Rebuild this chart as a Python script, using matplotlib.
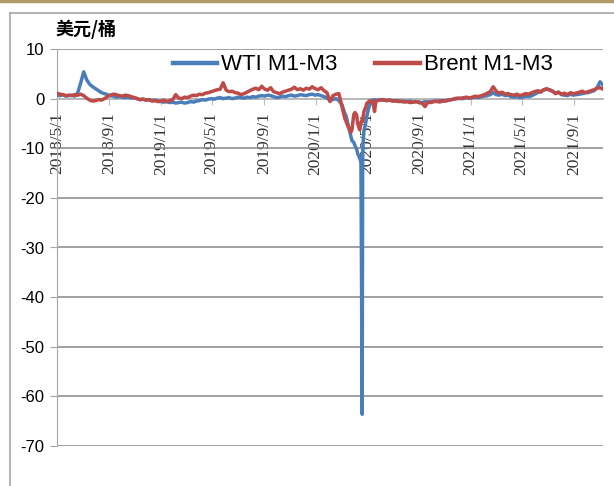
import pandas as pd
import matplotlib
matplotlib.use('Agg')
import matplotlib.pyplot as plt
from matplotlib.lines import Line2D

plt.rcParams['font.family'] = ['Liberation Sans', 'Noto Sans CJK SC']
plt.rcParams['axes.unicode_minus'] = False

# weekly M1-M3 spreads (USD/bbl), 2018-05-01 .. 2020-02-25
wti_pre = [0.7, 0.6, 0.8, 0.5, 0.6, 0.7, 0.5, 1.2, 3.2, 5.4,
           3.8, 2.9, 2.4, 2.0, 1.6, 1.2, 1.0, 0.8, 0.6, 0.5,
           0.3, 0.4, 0.3, 0.2, 0.3, 0.1, 0.2, 0.0, -0.2, -0.1,
           -0.3, -0.2, -0.4, -0.3, -0.5, -0.6, -0.7, -0.6, -0.8, -0.7,
           -0.9, -0.8, -0.7, -0.9, -0.8, -0.6, -0.7, -0.5, -0.4, -0.2,
           -0.3, -0.1, 0.0, -0.1, 0.1, 0.2, 0.0, 0.1, 0.2, 0.0,
           0.1, 0.3, 0.2, 0.1, 0.3, 0.2, 0.4, 0.3, 0.5, 0.6,
           0.5, 0.7, 0.6, 0.4, 0.2, 0.3, 0.5, 0.4, 0.6, 0.7,
           0.5, 0.6, 0.8, 0.7, 0.6, 0.8, 0.9, 0.7, 0.8, 0.6,
           0.4, 0.1, -0.3, -0.2, 0.0, -0.4]
brent_pre = [1.1, 0.9, 0.8, 0.6, 0.7, 0.6, 0.8, 0.7, 0.9, 0.6,
             0.1, -0.3, -0.5, -0.4, -0.2, -0.3, 0.0, 0.4, 0.7, 0.9,
             0.8, 0.6, 0.5, 0.7, 0.6, 0.4, 0.2, 0.0, -0.2, -0.1,
             -0.3, -0.2, -0.5, -0.4, -0.6, -0.5, -0.3, -0.6, -0.4, -0.2,
             0.8, 0.1, 0.0, 0.3, 0.2, 0.5, 0.7, 0.6, 0.9, 0.8,
             1.1, 1.2, 1.4, 1.6, 1.8, 1.9, 3.2, 1.7, 1.4, 1.5,
             1.2, 1.1, 0.8, 1.0, 1.3, 1.6, 1.9, 2.1, 1.8, 2.5,
             1.9, 1.7, 2.2, 1.4, 1.2, 1.0, 1.3, 1.5, 1.7, 1.9,
             2.3, 1.8, 2.0, 1.7, 2.1, 1.9, 2.4, 2.0, 1.8, 2.2,
             1.6, 1.2, -0.6, 0.6, 0.9, 1.0]

# March - May 2020
crash_days = ['2020-03-03', '2020-03-06', '2020-03-10', '2020-03-13', '2020-03-17',
              '2020-03-20', '2020-03-24', '2020-03-27', '2020-03-31', '2020-04-03',
              '2020-04-07', '2020-04-09', '2020-04-14', '2020-04-16', '2020-04-17',
              '2020-04-20', '2020-04-21', '2020-04-22', '2020-04-24', '2020-04-28',
              '2020-05-01', '2020-05-05', '2020-05-08', '2020-05-12', '2020-05-15',
              '2020-05-19', '2020-05-22', '2020-05-26']
wti_crash = [-1.2, -2.0, -3.0, -3.5, -5.0, -6.0, -7.5, -8.5, -8.8, -9.5,
             -10.2, -11.0, -12.0, -12.5, -13.0, -63.6, -12.5, -9.0, -6.5, -5.0,
             -3.5, -2.0, -1.2, -0.6, -0.3, -0.2, -0.4, -0.3]
brent_crash = [-1.5, -2.5, -4.0, -4.6, -5.5, -6.0, -6.8, -6.2, -3.2, -2.8,
               -3.3, -5.0, -6.3, -5.5, -4.8, -4.3, -4.6, -3.8, -2.6, -1.8,
               -0.9, -0.7, -0.4, -0.5, -0.6, -2.6, -0.6, -0.4]

# weekly, 2020-06-02 .. 2021-11-09
wti_post = [-0.2, -0.3, -0.4, -0.3, -0.4, -0.5, -0.4, -0.6, -0.5,
            -0.6, -0.5, -0.7, -0.6, -0.7, -0.8, -0.6, -0.7, -0.6,
            -0.5, -0.6, -0.4, -0.5, -0.4, -0.3, -0.2, -0.1,
            0.0, 0.1, 0.0, 0.2, 0.1, 0.2, 0.3, 0.2, 0.4,
            0.5, 0.6, 0.8, 1.2, 0.8, 0.7, 0.9, 0.6, 0.7,
            0.4, 0.3, 0.4, 0.2, 0.3, 0.5, 0.4, 0.6,
            0.9, 1.2, 1.5, 1.7, 1.9, 1.8, 1.5, 1.1, 1.3,
            0.8, 0.7, 0.6, 0.9, 0.7, 0.8, 0.9, 1.0, 1.2,
            1.2, 1.4, 1.6, 2.2, 3.4, 2.7]
brent_post = [-0.3, -0.2, -0.4, -0.3, -0.5, -0.4, -0.6, -0.5, -0.7,
              -0.6, -0.8, -0.7, -0.6, -0.8, -0.9, -1.6, -0.7, -0.8,
              -0.6, -0.5, -0.7, -0.4, -0.5, -0.3, -0.2, 0.0,
              0.1, 0.0, 0.2, 0.3, 0.1, 0.3, 0.5, 0.4, 0.6,
              0.8, 1.1, 1.4, 2.4, 1.5, 1.1, 1.3, 0.9, 1.0,
              0.8, 0.7, 0.9, 0.6, 0.8, 1.0, 0.9, 1.2,
              1.4, 1.6, 1.3, 1.8, 2.0, 1.7, 1.5, 1.0, 1.3,
              0.9, 1.1, 0.8, 1.2, 1.0, 1.1, 1.3, 1.5, 1.2,
              1.4, 1.6, 1.8, 2.1, 2.2, 1.9]

tick_dates = ['2018-05-01', '2018-09-01', '2019-01-01', '2019-05-01', '2019-09-01',
              '2020-01-01', '2020-05-01', '2020-09-01', '2021-01-01', '2021-05-01',
              '2021-09-01']
tick_labels = ['2018/5/1', '2018/9/1', '2019/1/1', '2019/5/1', '2019/9/1',
               '2020/1/1', '2020/5/1', '2020/9/1', '2021/1/1', '2021/5/1',
               '2021/9/1']
y_ticks = [10, 0, -10, -20, -30, -40, -50, -60, -70]


def build(pre, crash, post):
    d1 = pd.date_range('2018-05-01', periods=len(pre), freq='7D')
    d2 = pd.to_datetime(crash_days)
    d3 = pd.date_range('2020-06-02', periods=len(post), freq='7D')
    return pd.Series(pre + crash + post, index=d1.append(d2).append(d3))


wti = build(wti_pre, wti_crash, wti_post)
brent = build(brent_pre, brent_crash, brent_post)

W, H = 614, 486
fig = plt.figure(figsize=(W / 100, H / 100), dpi=100)
ax = fig.add_axes([57 / W, 1 - 446 / H, (603 - 57) / W, (446 - 49) / H])

ax.plot(wti.index, wti.values, color='#4a7ebb', lw=2.5, zorder=3,
        solid_joinstyle='round', label='WTI M1-M3')
ax.plot(brent.index, brent.values, color='#be4b48', lw=2.5, zorder=3,
        solid_joinstyle='round', label='Brent M1-M3')

ax.set_ylim(-70, 10)
ax.set_yticks(y_ticks)
ax.set_xlim(pd.Timestamp('2018-05-01'), wti.index[-1])
ax.set_xticks(pd.to_datetime(tick_dates))
ax.set_xticklabels(tick_labels)

ax.yaxis.grid(True, color='#868686', lw=1.1)
ax.set_axisbelow(True)
for s in ['top', 'right']:
    ax.spines[s].set_visible(False)
ax.spines['left'].set_color('#a6a6a6')
ax.spines['bottom'].set_position(('data', 0))
ax.spines['bottom'].set_color('#bdbdbd')
ax.spines['bottom'].set_linewidth(1.3)
ax.tick_params(axis='x', length=4, color='#bdbdbd', pad=6, labelrotation=90)
ax.tick_params(axis='y', length=5, color='#a6a6a6', labelsize=12, pad=4)
for lab in ax.get_xticklabels():
    lab.set_fontfamily('Liberation Serif')
    lab.set_fontsize(12.5)
    lab.set_color('#333333')

leg = ax.legend(loc='center', bbox_to_anchor=(0.56, 0.96), ncol=2, frameon=False,
                fontsize=16, handlelength=2.0, columnspacing=1.7,
                handletextpad=0.18)
for h in leg.get_lines():
    h.set_linewidth(3.2)

fig.text(55 / W, 1 - 29 / H, '美元/桶', fontfamily='Noto Sans CJK SC',
         fontweight='bold', fontsize=13, va='center')

# outer frame and top rule
fig.add_artist(Line2D([10 / W, 10 / W], [0, 1 - 13 / H], transform=fig.transFigure,
                      color='#a6a6a6', lw=1.2))
fig.add_artist(Line2D([10 / W, 1], [1 - 13 / H, 1 - 13 / H], transform=fig.transFigure,
                      color='#a6a6a6', lw=1.2))
fig.add_artist(Line2D([0, 1], [1 - 1 / H, 1 - 1 / H], transform=fig.transFigure,
                      color='#b39b68', lw=2.5))

fig.savefig('out.png', dpi=100)
